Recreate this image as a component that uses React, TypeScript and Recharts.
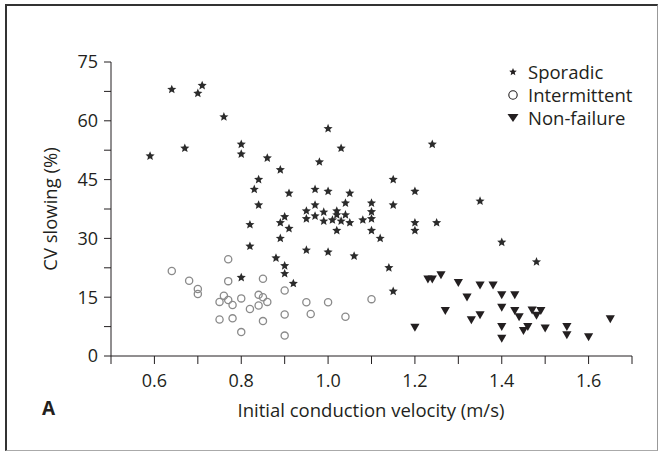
import { ScatterChart, Scatter, XAxis, YAxis } from "recharts";

// initial conduction velocity (m/s), CV slowing (%)
const sporadicX = [
  0.59, 0.64, 0.67, 0.7, 0.71, 0.76, 0.8, 0.8, 0.86, 0.89, 0.84, 0.83, 0.91, 0.84, 0.9,
  1.0, 1.03, 1.24, 0.98, 1.15, 0.97, 1.0, 1.05, 1.2, 1.35, 1.04, 1.1, 1.15, 0.97, 0.95,
  0.99, 1.02, 1.1, 0.95, 0.97, 0.99, 1.01, 1.02, 1.03, 1.04, 1.05, 1.08, 1.1, 1.2, 1.25,
  1.02, 1.1, 1.2, 1.12, 0.95, 1.0, 1.06, 1.4, 1.48, 1.14, 1.15,
  0.82, 0.82, 0.89, 0.91, 0.89, 0.88, 0.9, 0.9, 0.8, 0.92,
];
const sporadicY = [
  51, 68, 53, 67, 69, 61, 54, 51.5, 50.5, 47.5, 45, 42.5, 41.5, 38.5, 35.5,
  58, 53, 54, 49.5, 45, 42.5, 42, 41.5, 42, 39.5, 39, 39, 38.5, 38.5, 37,
  36.7, 37, 36.8, 35, 35.7, 34.4, 34.7, 36, 34.4, 36, 34, 34.7, 35, 34, 34,
  32, 32, 32, 30, 27, 26.5, 25.5, 29, 24, 22.5, 16.5,
  33.5, 28, 34, 32.5, 30, 25, 23, 21, 20, 18.5,
];

const intermittentX = [
  0.64, 0.77, 0.68, 0.77, 0.85, 0.7, 0.7, 0.9, 0.76, 0.75, 0.77, 0.78, 0.8, 0.82, 0.84,
  0.85, 0.84, 0.86, 0.95, 1.0, 0.9, 0.96, 0.75, 0.78, 0.85, 0.8, 0.9, 1.1, 1.04,
];
const intermittentY = [
  21.7, 24.7, 19.2, 19.1, 19.7, 17.1, 15.8, 16.7, 15.4, 13.8, 14.3, 13, 14.7, 12, 15.6,
  15, 12.9, 13.8, 13.7, 13.7, 10.6, 10.7, 9.3, 9.6, 8.9, 6.1, 5.2, 14.5, 10,
];

const nonFailureX = [
  1.2, 1.23, 1.24, 1.26, 1.27, 1.3, 1.32, 1.35, 1.38, 1.33, 1.35, 1.4, 1.43, 1.4,
  1.43, 1.44, 1.47, 1.49, 1.48, 1.4, 1.4, 1.46, 1.45, 1.5, 1.55, 1.55, 1.6, 1.65,
];
const nonFailureY = [
  7.3, 19.6, 19.6, 20.7, 11.6, 18.7, 15, 18.1, 18.1, 9.2, 10.5, 15.6, 15.6, 12.4,
  11.6, 10, 11.7, 11.6, 10.4, 7.5, 4.5, 7.5, 6.5, 7.1, 7.5, 5.4, 4.9, 9.5,
];

const xTicks = [0.5, 0.6, 0.7, 0.8, 0.9, 1.0, 1.1, 1.2, 1.3, 1.4, 1.5, 1.6, 1.7];
const yTicks = [0, 7.5, 15, 22.5, 30, 37.5, 45, 52.5, 60, 67.5, 75];

const zip = (xs: number[], ys: number[]) => xs.map((x, i) => ({ x, y: ys[i] }));
const sporadic = zip(sporadicX, sporadicY);
const intermittent = zip(intermittentX, intermittentY);
const nonFailure = zip(nonFailureX, nonFailureY);

const FONT = "'Open Sans', 'Noto Sans', sans-serif";
const INK = "#231f20";

function starPoints(cx: number, cy: number, r: number) {
  const pts: string[] = [];
  for (let i = 0; i < 10; i++) {
    const rad = i % 2 === 0 ? r : r * 0.45;
    const a = -Math.PI / 2 + (i * Math.PI) / 5;
    pts.push(`${cx + rad * Math.cos(a)},${cy + rad * Math.sin(a)}`);
  }
  return pts.join(" ");
}

const StarShape = (p: any) => <polygon points={starPoints(p.cx, p.cy, 4.8)} fill="#2b2b2b" />;
const CircleShape = (p: any) => (
  <circle cx={p.cx} cy={p.cy} r={3.6} fill="none" stroke="#8a8a8a" strokeWidth={1.3} />
);
const TriShape = (p: any) => (
  <polygon
    points={`${p.cx - 4.6},${p.cy - 3.6} ${p.cx + 4.6},${p.cy - 3.6} ${p.cx},${p.cy + 4.4}`}
    fill={INK}
  />
);

const legendItems = [
  { name: "Sporadic", icon: <polygon points={starPoints(6, 8, 4)} fill={INK} /> },
  { name: "Intermittent", icon: <circle cx={6} cy={8} r={4.2} fill="none" stroke={INK} strokeWidth={1.1} /> },
  { name: "Non-failure", icon: <polygon points="0.5,4 11.5,4 6,12" fill={INK} /> },
];

function LegendBox() {
  return (
    <div style={{ fontFamily: FONT, fontSize: 18.5, color: INK, lineHeight: "23px" }}>
      {legendItems.map((it) => (
        <div key={it.name} style={{ display: "flex", alignItems: "center" }}>
          <svg width={12} height={16} style={{ marginRight: 9 }}>
            {it.icon}
          </svg>
          {it.name}
        </div>
      ))}
    </div>
  );
}

const tickStyle = { fontFamily: FONT, fontSize: 18, fill: INK };

export default function App() {
  return (
    <div style={{ position: "absolute", left: 0, top: 0, width: 660, height: 451, background: "#fff" }}>
      <div
        style={{
          position: "absolute",
          left: 5,
          top: 4,
          width: 650,
          height: 444,
          borderTop: "2px solid #333",
          borderLeft: "2px solid #333",
          borderRight: "1px solid #999",
          borderBottom: "1px solid #aaa",
        }}
      />
      <div
        style={{
          position: "absolute",
          left: 42,
          top: 395,
          fontFamily: FONT,
          fontWeight: 700,
          fontSize: 19,
          color: INK,
        }}
      >
        A
      </div>
      <div style={{ position: "absolute", left: 0, top: 0 }}>
        <ScatterChart width={660} height={451} margin={{ top: 62, right: 28, bottom: 55, left: 51 }}>
          <XAxis
            type="number"
            dataKey="x"
            domain={[0.5, 1.7]}
            ticks={xTicks}
            interval={0}
            height={40}
            tickSize={8}
            tickMargin={10}
            stroke={INK}
            tick={tickStyle}
            tickFormatter={(v: number) => {
              const k = Math.round(v * 10);
              return k % 2 === 0 && k >= 6 && k <= 16 ? v.toFixed(1) : "";
            }}
            label={{
              content: () => (
                <text x={371} y={417} textAnchor="middle" fontFamily={FONT} fontSize={18.5} fill={INK}>
                  Initial conduction velocity (m/s)
                </text>
              ),
            }}
          />
          <YAxis
            type="number"
            dataKey="y"
            domain={[0, 75]}
            ticks={yTicks}
            interval={0}
            width={60}
            tickSize={7}
            tickMargin={6}
            stroke={INK}
            tick={tickStyle}
            tickFormatter={(v: number) => (v % 15 === 0 ? String(v) : "")}
            label={{
              content: () => (
                <text
                  x={57}
                  y={209}
                  transform="rotate(-90 57 209)"
                  textAnchor="middle"
                  fontFamily={FONT}
                  fontSize={18.5}
                  fill={INK}
                >
                  CV slowing (%)
                </text>
              ),
            }}
          />
          <Scatter name="Sporadic" data={sporadic} shape={StarShape} isAnimationActive={false} />
          <Scatter name="Intermittent" data={intermittent} shape={CircleShape} isAnimationActive={false} />
          <Scatter name="Non-failure" data={nonFailure} shape={TriShape} isAnimationActive={false} />
        </ScatterChart>
      </div>
      <div style={{ position: "absolute", left: 507, top: 60 }}>
        <LegendBox />
      </div>
    </div>
  );
}
